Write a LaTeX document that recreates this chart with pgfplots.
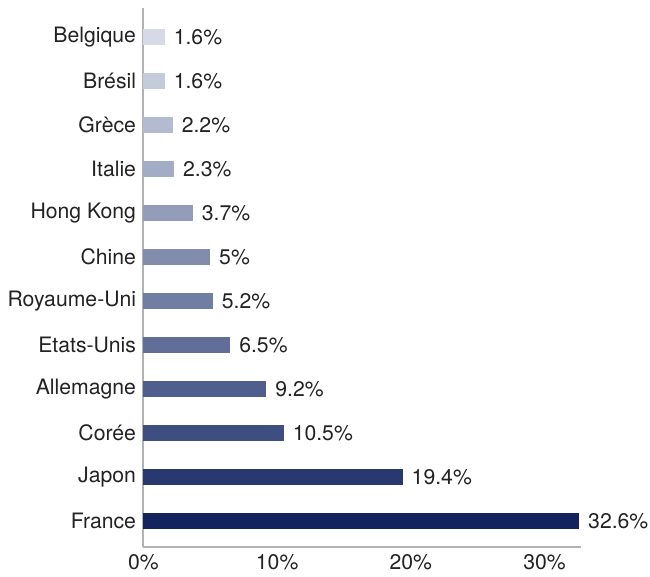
\documentclass[border=0pt]{standalone}
\usepackage{pgfplots}
\pgfplotsset{compat=1.18}
\usepackage{fontspec}
\setmainfont{TeX Gyre Heros}
\definecolor{c0}{RGB}{19,35,94}
\definecolor{c1}{RGB}{40,56,112}
\definecolor{c2}{RGB}{62,78,129}
\definecolor{c3}{RGB}{79,94,141}
\definecolor{c4}{RGB}{97,111,152}
\definecolor{c5}{RGB}{113,126,163}
\definecolor{c6}{RGB}{130,141,174}
\definecolor{c7}{RGB}{147,157,186}
\definecolor{c8}{RGB}{163,172,197}
\definecolor{c9}{RGB}{180,187,208}
\definecolor{c10}{RGB}{196,203,219}
\definecolor{c11}{RGB}{213,218,230}
\definecolor{axgray}{RGB}{178,178,178}
\definecolor{txt}{RGB}{34,34,34}
\begin{document}
\fontsize{10.7}{12}\selectfont
\begin{tikzpicture}
\begin{axis}[
  scale only axis,
  width=220.6pt, height=272pt,
  xmin=0, xmax=32.7,
  ymin=-0.59, ymax=11.66,
  axis x line=bottom, axis y line=left,
  axis line style={axgray, line width=1pt, -},
  xtick={0,10,20,30},
  xticklabels={0\%,10\%,20\%,30\%},
  ytick={0,1,2,3,4,5,6,7,8,9,10,11},
  yticklabels={France,Japon,Corée,Allemagne,Etats-Unis,Royaume-Uni,Chine,Hong Kong,Italie,Grèce,Brésil,Belgique},
  major tick length=0pt,
  tick label style={font=\fontsize{10.7}{12}\selectfont, text=txt},
  yticklabel style={xshift=0pt},
  xticklabel style={yshift=0pt},
  xbar, bar width=8pt, bar shift=0pt,
  point meta=explicit symbolic,
  nodes near coords,
  nodes near coords style={font=\fontsize{10.7}{12}\selectfont, text=txt, anchor=west, inner xsep=0pt, xshift=4.3pt},
  clip=false,
]
\addplot[fill=c0, draw=none] coordinates {(32.6,0) [32.6\%]};
\addplot[fill=c1, draw=none] coordinates {(19.4,1) [19.4\%]};
\addplot[fill=c2, draw=none] coordinates {(10.5,2) [10.5\%]};
\addplot[fill=c3, draw=none] coordinates {(9.2,3) [9.2\%]};
\addplot[fill=c4, draw=none] coordinates {(6.5,4) [6.5\%]};
\addplot[fill=c5, draw=none] coordinates {(5.2,5) [5.2\%]};
\addplot[fill=c6, draw=none] coordinates {(5,6) [5\%]};
\addplot[fill=c7, draw=none] coordinates {(3.7,7) [3.7\%]};
\addplot[fill=c8, draw=none] coordinates {(2.3,8) [2.3\%]};
\addplot[fill=c9, draw=none] coordinates {(2.2,9) [2.2\%]};
\addplot[fill=c10, draw=none] coordinates {(1.6,10) [1.6\%]};
\addplot[fill=c11, draw=none] coordinates {(1.6,11) [1.6\%]};
\coordinate (sw) at (rel axis cs:0,0);
\coordinate (ne) at (rel axis cs:1,1);
\end{axis}
\path ([xshift=-72.4pt,yshift=-10.6pt]sw) rectangle ([xshift=35pt,yshift=4pt]ne);
\end{tikzpicture}
\end{document}
